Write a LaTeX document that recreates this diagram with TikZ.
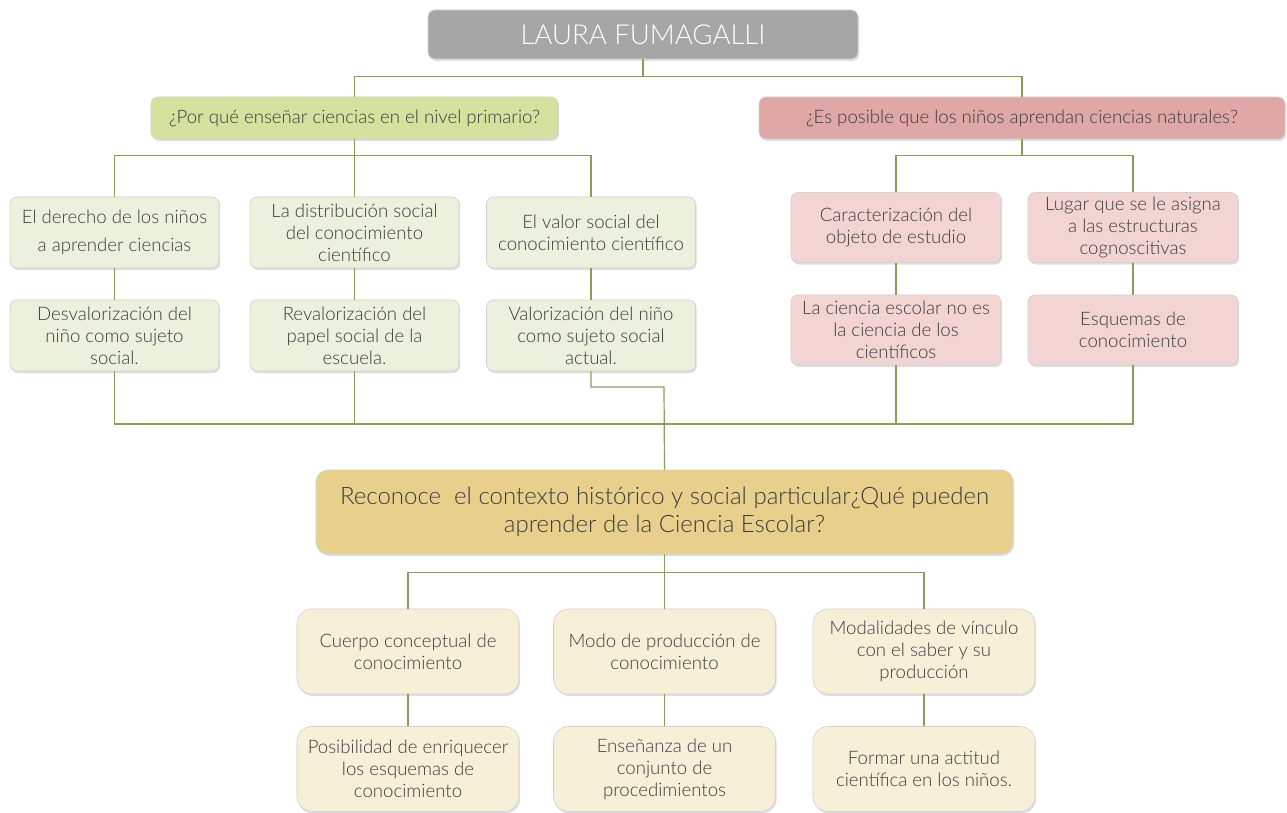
\documentclass[tikz,border=0pt]{standalone}
\usepackage{fontspec}
\setmainfont{Lato Light}
\usetikzlibrary{shadows}
\definecolor{linea}{HTML}{8E9B5C}
\definecolor{tinta}{HTML}{3C3C3C}
\definecolor{gris}{HTML}{A6A6A6}
\definecolor{verdeA}{HTML}{D5E19F}
\definecolor{verdeB}{HTML}{EBF1DC}
\definecolor{rosaA}{HTML}{DFA8A7}
\definecolor{rosaB}{HTML}{F2D4D3}
\definecolor{oro}{HTML}{E9CF8C}
\definecolor{crema}{HTML}{F8EFD9}
\tikzset{
  caja/.style={draw=black!18, line width=0.6pt, rounded corners=7pt,
    align=center, text=tinta, inner sep=2pt,
    font=\fontsize{18.6}{22}\selectfont,
    drop shadow={shadow xshift=1.2pt, shadow yshift=-2pt, opacity=0.25}},
  titulo/.style={caja, fill=gris, text=white, minimum width=430pt,
    minimum height=49pt, font=\fontsize{27.5}{32}\selectfont},
  verdeP/.style={caja, fill=verdeA, minimum width=407pt, minimum height=42pt},
  rosaP/.style={caja, fill=rosaA, minimum width=526pt, minimum height=42pt},
  verdeH/.style={caja, fill=verdeB, minimum width=209pt, minimum height=71pt},
  rosaH/.style={caja, fill=rosaB, minimum width=210pt, minimum height=70pt},
  central/.style={caja, fill=oro, rounded corners=12pt, minimum width=697pt,
    minimum height=84pt, font=\fontsize{24}{28}\selectfont},
  cremaH/.style={caja, fill=crema, rounded corners=15pt, minimum width=222pt,
    minimum height=85pt},
  rama/.style={draw=linea, line width=1.2pt}
}
\begin{document}
\begin{tikzpicture}[x=1pt,y=-1pt]
\useasboundingbox[fill=white] (0,0) rectangle (1287,813);
\path (643,34.5) node[titulo](top){LAURA FUMAGALLI};
\path (354.5,118) node[verdeP](pq){¿Por qué enseñar ciencias en el nivel primario?};
\path (1022,118) node[rosaP](ep){¿Es posible que los niños aprendan ciencias naturales?};
\foreach \n/\x/\y/\texn in {
  g1/114.5/232.5/{El derecho de los niños\\[6pt]a aprender ciencias},
  g2/354.5/232.5/{La distribución social\\del conocimiento\\científico},
  g3/591/232.5/{El valor social del\\conocimiento científico},
  g4/114.5/335.5/{Desvalorización del\\niño como sujeto\\social.},
  g5/354.5/335.5/{Revalorización del\\papel social de la\\escuela.},
  g6/591/335.5/{Valorización del niño\\como sujeto social\\actual.}}
  \path (\x,\y) node[verdeH](\n){\texn};
\foreach \n/\x/\y/\texn in {
  r1/896/227.5/{Caracterización del\\objeto de estudio},
  r2/1133/227.5/{Lugar que se le asigna\\a las estructuras\\cognoscitivas},
  r3/896/330/{La ciencia escolar no es\\la ciencia de los\\científicos},
  r4/1133/330/{Esquemas de\\conocimiento}}
  \path (\x,\y) node[rosaH](\n){\texn};
\path (664.5,512) node[central](rec){Reconoce\ \ el contexto histórico y social particular¿Qué pueden\\aprender de la Ciencia Escolar?};
\foreach \n/\x/\y/\texn in {
  b1/408/651.5/{Cuerpo conceptual de\\conocimiento},
  b2/664.5/651.5/{Modo de producción de\\conocimiento},
  b3/924/651.5/{Modalidades de vínculo\\con el saber y su\\producción},
  b4/408/769/{Posibilidad de enriquecer\\los esquemas de\\conocimiento},
  b5/664.5/769/{Enseñanza de un\\conjunto de\\procedimientos},
  b6/924/769/{Formar una actitud\\científica en los niños.}}
  \path (\x,\y) node[cremaH](\n){\texn};
\coordinate (cruce) at (664,424);
\coordinate (codo) at (664,387);
\foreach \p in {pq,ep}
  \draw[rama] (top.south) -- ++(0,17) -| (\p.north);
\foreach \h in {g1,g2,g3}
  \draw[rama] (pq.south) -- ++(0,16) -| (\h.north);
\foreach \h in {r1,r2}
  \draw[rama] (ep.south) -- ++(0,16) -| (\h.north);
\foreach \a/\b in {g1/g4,g2/g5,g3/g6,r1/r3,r2/r4,b1/b4,b2/b5,b3/b6}
  \draw[rama] (\a) -- (\b);
\foreach \h in {g4,g5,r3,r4}
  \draw[rama] (\h.south) |- (cruce);
\draw[rama] (g6.south) |- (codo) -- (rec.north);
\foreach \h in {b1,b2,b3}
  \draw[rama] (rec.south) -- ++(0,18) -| (\h.north);
\end{tikzpicture}
\end{document}
